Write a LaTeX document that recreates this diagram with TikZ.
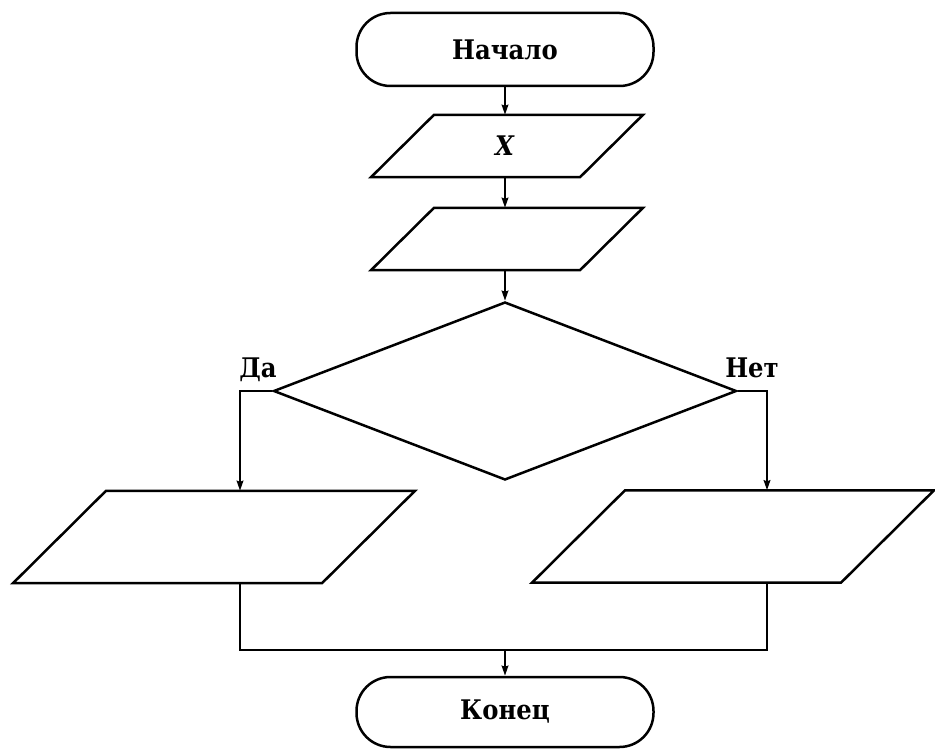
\documentclass[tikz,border=0pt]{standalone}
\usepackage{fontspec}
\setmainfont{DejaVu Serif}[FakeStretch=0.9]
\usetikzlibrary{shapes.geometric,arrows.meta,calc}
\begin{document}
\begin{tikzpicture}[x=1pt,y=-1pt,
  every node/.style={font=\fontsize{27}{32}\selectfont\bfseries},
  line/.style={line width=2.5pt},
  arr/.style={line, -{Stealth[length=10pt,width=6.5pt,inset=1pt]}},
  term/.style={line, draw, rectangle, rounded corners=34pt, minimum width=297pt, minimum height=73pt, inner sep=0pt},
  smallpara/.style={rectangle, minimum width=120pt, minimum height=62pt, inner sep=0pt},
  bigpara/.style={rectangle, minimum width=200pt, minimum height=92pt, inner sep=0pt},
  decision/.style={line, draw, diamond, minimum width=463pt, minimum height=178pt, inner sep=0pt},
  lbl/.style={anchor=base}
]
\useasboundingbox (0,0) rectangle (935,749);
\node[term] (start) at (505,49.5) {Начало};
\node[smallpara] (p1) at (505,146) {\textit{X}};
\node[smallpara] (p2) at (505,239) {};
\node[decision] (dia) at (505,391) {};
\node[bigpara] (L) at (214,537) {};
\node[bigpara] (R) at (733,536.5) {};
\node[term, minimum height=70pt] (end) at (505,712) {Конец};
\foreach \p in {p1,p2}
  \draw[line] ($(\p.north)+(-71,0)$) -- ++(209,0) -- ($(\p.south)+(75,0)$) -- ++(-209,0) -- cycle;
\foreach \p in {L,R}
  \draw[line] ($(\p.north)+(-108,0)$) -- ++(309,0) -- ($(\p.south)+(108,0)$) -- ++(-309,0) -- cycle;
\coordinate (yesx) at (240,391);
\coordinate (nox) at (767,391);
\coordinate (joinL) at (240,650);
\coordinate (joinR) at (767,650);
\coordinate (join) at (505,650);
\node[lbl] (da) at (258,377) {Да};
\node[lbl] (net) at (752,377) {Нет};
\draw[arr] (start) -- (p1);
\draw[arr] (p1) -- (p2);
\draw[arr] (p2) -- (dia);
\draw[arr] (dia.west) -- (yesx) -- (yesx |- L.north);
\draw[arr] (dia.east) -- (nox) -- (nox |- R.north);
\draw[line] (yesx |- L.south) -- (joinL) -- (joinR) -- (nox |- R.south);
\draw[arr] (join) -- (end);
\end{tikzpicture}
\end{document}
